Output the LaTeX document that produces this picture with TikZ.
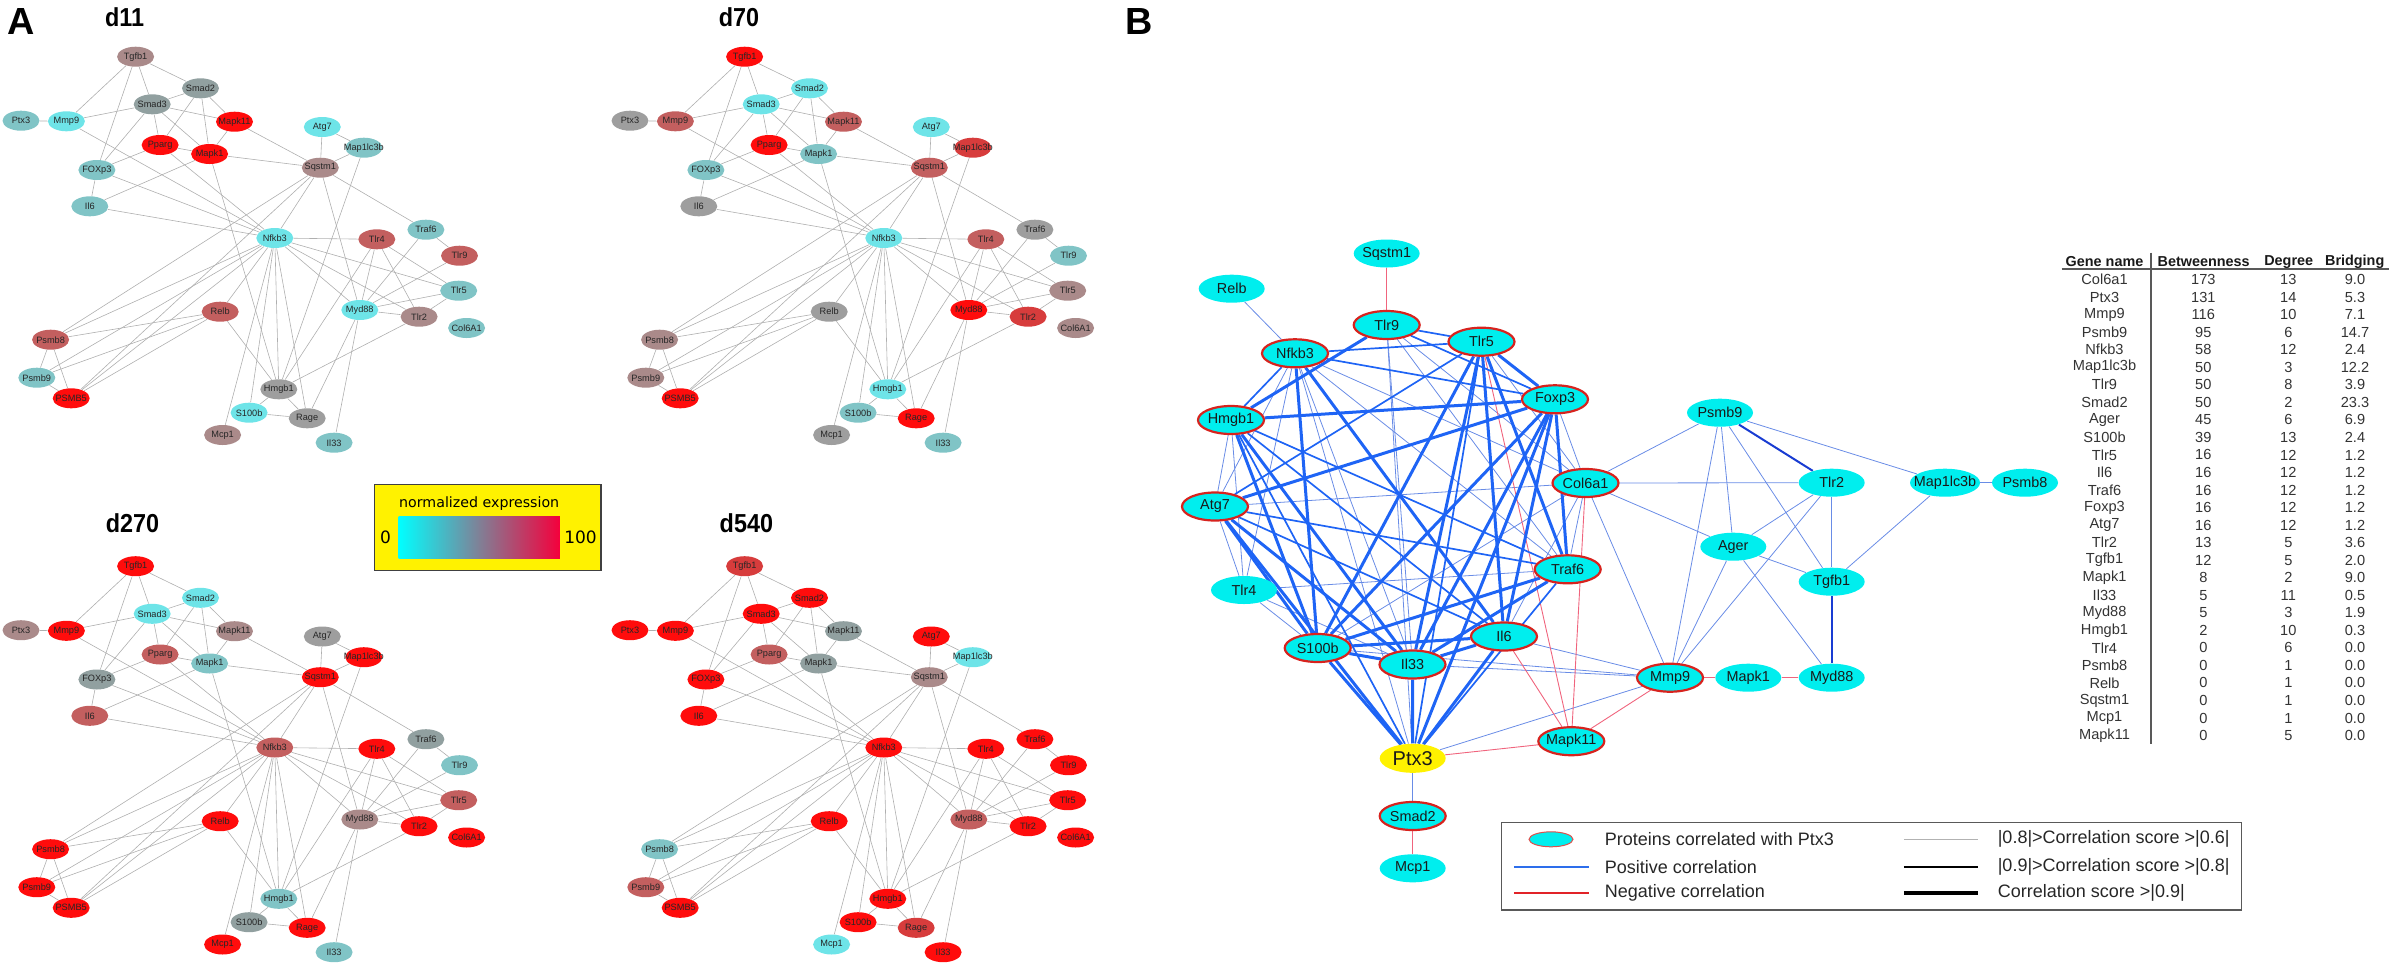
\documentclass[tikz,border=0pt]{standalone}
\usepackage{fontspec}
\setmainfont{Liberation Sans}
\newfontfamily\dejavu{DejaVu Sans}
\newfontfamily\narrowbold[FakeStretch=0.9]{Liberation Sans}
\usetikzlibrary{shapes.geometric}
\pgfdeclarelayer{bg}
\pgfsetlayers{bg,main}

\definecolor{cC}{RGB}{110,228,232}
\definecolor{cT}{RGB}{128,196,198}
\definecolor{cG}{RGB}{145,160,160}
\definecolor{cY}{RGB}{158,158,158}
\definecolor{cM}{RGB}{170,138,138}
\definecolor{cD}{RGB}{195,95,95}
\definecolor{cE}{RGB}{215,60,60}
\definecolor{cR}{RGB}{255,12,12}
\definecolor{bcyan}{RGB}{0,238,238}
\definecolor{bborder}{RGB}{215,35,30}
\definecolor{bthick}{RGB}{30,100,245}
\definecolor{bthin}{RGB}{105,140,230}
\definecolor{bdark}{RGB}{25,60,210}
\definecolor{bneg}{RGB}{240,100,125}
\definecolor{agrey}{RGB}{175,175,175}
\definecolor{gcyan}{RGB}{0,255,255}
\definecolor{gmid}{RGB}{128,128,150}
\definecolor{gred}{RGB}{245,0,60}

\begin{document}
\begin{tikzpicture}[x=0.5pt,y=-0.5pt,
  anode/.style={ellipse,minimum width=18.5pt,minimum height=10pt,inner sep=0pt,
    font=\fontsize{4.6}{5}\selectfont,text=black!85},
  aline/.style={draw=agrey,line width=0.3pt},
  bnode/.style={ellipse,fill=bcyan,minimum width=33pt,minimum height=14pt,inner sep=0pt,
    font=\fontsize{7.2}{8}\selectfont,text=black!90},
  bring/.style={bnode,draw=bborder,line width=1.1pt},
  bthickline/.style={draw=bthick,line width=1.5pt},
  bmedline/.style={draw=bthick,line width=0.85pt},
  bthinline/.style={draw=bthin,line width=0.4pt},
  bnegline/.style={draw=bneg,line width=0.45pt},
  bdarkline/.style={draw=bdark,line width=1pt},
  tabtext/.style={font=\fontsize{7.3}{8}\selectfont,inner sep=0pt,text=black!80},
  tabhead/.style={font=\bfseries\fontsize{7.2}{8}\selectfont,inner sep=0pt,text=black!90},
  legtext/.style={font=\fontsize{9}{10}\selectfont,inner sep=0pt,anchor=west,text=black!85},
  panellabel/.style={font=\bfseries\fontsize{18.9}{20}\selectfont,inner sep=0pt},
  daylabel/.style={font=\narrowbold\bfseries\fontsize{13}{14}\selectfont,inner sep=0pt}
]
\useasboundingbox (0,0) rectangle (2395,966);

% ---------------- Panel A ----------------
\node[panellabel] (labA) at (21,21) {A};
\node[daylabel] (lab11) at (124.6,16.7) {d11};
\node[daylabel] (lab70) at (739,16.7) {d70};
\node[daylabel] (lab270) at (132.5,523.3) {d270};
\node[daylabel] (lab540) at (746.4,523.3) {d540};

\foreach \p/\dx/\dy/\k in {d11/0/0/1,d70/609/0/2,d270/0/509.5/3,d540/609/509.5/4}{
  \foreach \nm/\x/\y/\ca/\cb/\cc/\cd in {
    Tgfb1/135.6/56.7/M/R/R/E,
    Smad2/200.5/88.3/G/C/C/R,
    Smad3/152.2/104.3/G/C/C/R,
    Ptx3/21/120.7/T/Y/M/R,
    Mmp9/66.4/121.3/C/D/R/R,
    Mapk11/234.5/121.7/R/D/M/G,
    Atg7/322.3/127/C/C/Y/R,
    Pparg/160.1/145/R/R/D/D,
    Map1lc3b/363.8/147.7/T/E/R/C,
    Mapk1/209.6/154/R/T/T/G,
    Sqstm1/320.3/167.7/M/D/R/M,
    FOXp3/96.9/170/T/T/G/R,
    Il6/89.8/206.3/T/Y/D/R,
    Traf6/425.9/229.7/T/Y/G/R,
    Nfkb3/274.8/238/C/C/D/R,
    Tlr4/376.8/239.3/D/D/R/R,
    Tlr9/459.5/255.7/D/T/T/R,
    Tlr5/458.7/290.7/T/M/D/R,
    Myd88/359.8/310/C/R/M/D,
    Relb/220.2/311.7/D/Y/R/R,
    Tlr2/419.1/316.7/M/E/R/R,
    Col6A1/466.6/328/T/M/R/R,
    Psmb8/50.6/339.7/D/M/R/T,
    Psmb9/36.8/377.7/T/M/R/D,
    Hmgb1/278.8/389.3/Y/C/T/R,
    PSMB5/71.2/398.3/R/R/R/R,
    S100b/249.1/412.7/C/T/G/R,
    Rage/307.2/418.3/Y/R/R/E,
    Mcp1/222.6/435/M/Y/R/C,
    Il33/334.1/442.7/T/T/T/R}{
    \edef\col{\ifcase\k\or\ca\or\cb\or\cc\or\cd\fi}
    \node[anode,fill=c\col] (\p-\nm) at ({\x+\dx},{\y+\dy}) {\makebox[0pt]{\nm}};
  }
  \begin{pgfonlayer}{bg}
  \foreach \u/\v in {Tgfb1/Smad2,Tgfb1/Smad3,Tgfb1/Mmp9,Tgfb1/FOXp3,Smad2/Smad3,
    Smad2/Mapk11,Smad2/Pparg,Smad2/Mapk1,Smad3/Mmp9,Smad3/Mapk11,Smad3/Pparg,
    Smad3/Mapk1,Smad3/FOXp3,Ptx3/Mmp9,Mmp9/Nfkb3,Mapk11/Mapk1,Mapk11/Sqstm1,
    Pparg/Mapk1,Pparg/FOXp3,Pparg/Nfkb3,Mapk1/Sqstm1,Mapk1/Il6,Mapk1/Hmgb1,
    Atg7/Sqstm1,Atg7/Map1lc3b,Map1lc3b/Sqstm1,Map1lc3b/Hmgb1,Sqstm1/Nfkb3,
    Sqstm1/Traf6,Sqstm1/Myd88,Sqstm1/Psmb8,Sqstm1/PSMB5,FOXp3/Il6,FOXp3/Nfkb3,
    Il6/Nfkb3,Nfkb3/Tlr4,Nfkb3/Tlr5,Nfkb3/Tlr2,Nfkb3/Myd88,Nfkb3/Relb,
    Nfkb3/Hmgb1,Nfkb3/S100b,Nfkb3/Rage,Nfkb3/Mcp1,Nfkb3/Psmb8,Nfkb3/Psmb9,
    Nfkb3/PSMB5,Traf6/Tlr9,Traf6/Myd88,Tlr4/Myd88,Tlr4/Tlr2,Tlr4/Tlr5,
    Tlr4/Hmgb1,Tlr9/Myd88,Tlr5/Myd88,Tlr5/Tlr2,Myd88/Tlr2,Myd88/Rage,
    Myd88/Il33,Tlr2/Hmgb1,Relb/Psmb8,Relb/Psmb9,Relb/PSMB5,Relb/Hmgb1,
    Psmb8/Psmb9,Psmb8/PSMB5,Psmb9/PSMB5,Hmgb1/S100b,Hmgb1/Rage,S100b/Rage}{
    \draw[aline] (\p-\u) -- (\p-\v);
  }
  \end{pgfonlayer}
}

% colour legend
\node[draw=black!75,line width=0.6pt,fill=yellow,minimum width=113.1pt,
  minimum height=43.2pt,inner sep=0pt] (cbox) at (487.9,527.5) {};
\coordinate (gradA) at (398.6,516);
\coordinate (gradB) at (559.9,558.3);
\shade[left color=gcyan,right color=gred,middle color=gmid] (gradA) rectangle (gradB);
\node[font=\dejavu\fontsize{7.1}{8}\selectfont,inner sep=0pt] (cnorm) at (479.2,504) {normalized expression};
\node[font=\dejavu\fontsize{8.5}{9}\selectfont,inner sep=0pt] (czero) at (385.5,537.3) {0};
\node[font=\dejavu\fontsize{8.5}{9}\selectfont,inner sep=0pt] (chund) at (580.5,537.3) {100};

% ---------------- Panel B ----------------
\node[panellabel] (labB) at (1139.6,21) {B};

\node[bnode] (B-Sqstm1) at (1386.7,253.5) {\makebox[0pt]{Sqstm1}};
\node[bnode] (B-Relb) at (1231.7,288.7) {\makebox[0pt]{Relb}};
\node[bring] (B-Tlr9) at (1386.7,325) {\makebox[0pt]{Tlr9}};
\node[bring] (B-Tlr5) at (1481.5,341.7) {\makebox[0pt]{Tlr5}};
\node[bring] (B-Nfkb3) at (1295,353.3) {\makebox[0pt]{Nfkb3}};
\node[bring] (B-Foxp3) at (1555,399.3) {\makebox[0pt]{Foxp3}};
\node[bnode] (B-Psmb9) at (1720,412.7) {\makebox[0pt]{Psmb9}};
\node[bring] (B-Hmgb1) at (1231,420) {\makebox[0pt]{Hmgb1}};
\node[bring] (B-Col6a1) at (1585.5,483) {\makebox[0pt]{Col6a1}};
\node[bnode] (B-Tlr2) at (1831.7,482.7) {\makebox[0pt]{Tlr2}};
\node[bnode,minimum width=35pt] (B-Map1lc3b) at (1945,482.7) {\makebox[0pt]{Map1lc3b}};
\node[bnode] (B-Psmb8) at (2025,482.7) {\makebox[0pt]{Psmb8}};
\node[bring] (B-Atg7) at (1215,506.5) {\makebox[0pt]{Atg7}};
\node[bnode] (B-Ager) at (1733.3,546.7) {\makebox[0pt]{Ager}};
\node[bring] (B-Traf6) at (1567.7,569.3) {\makebox[0pt]{Traf6}};
\node[bnode] (B-Tgfb1) at (1831.7,581.7) {\makebox[0pt]{Tgfb1}};
\node[bnode] (B-Tlr4) at (1244,590) {\makebox[0pt]{Tlr4}};
\node[bring] (B-Il6) at (1504,636.5) {\makebox[0pt]{Il6}};
\node[bring] (B-S100b) at (1317.7,648) {\makebox[0pt]{S100b}};
\node[bring] (B-Il33) at (1412.5,664.5) {\makebox[0pt]{Il33}};
\node[bring] (B-Mmp9) at (1670,677.7) {\makebox[0pt]{Mmp9}};
\node[bnode] (B-Mapk1) at (1748.3,677.7) {\makebox[0pt]{Mapk1}};
\node[bnode] (B-Myd88) at (1831.7,677.7) {\makebox[0pt]{Myd88}};
\node[bring] (B-Mapk11) at (1571.3,741.2) {\makebox[0pt]{Mapk11}};
\node[bnode,fill=yellow,minimum height=14.5pt,font=\fontsize{10}{11}\selectfont] (B-Ptx3) at (1412.7,758.3) {\makebox[0pt]{Ptx3}};
\node[bring] (B-Smad2) at (1412.7,816) {\makebox[0pt]{Smad2}};
\node[bnode] (B-Mcp1) at (1412.7,868.3) {\makebox[0pt]{Mcp1}};

\begin{pgfonlayer}{bg}
\foreach \u/\v in {Relb/Nfkb3,Tlr9/Ptx3,Tlr9/Col6a1,Tlr9/Traf6,Tlr9/Il33,
  Nfkb3/Atg7,Nfkb3/Tlr4,Nfkb3/Col6a1,Nfkb3/Traf6,Nfkb3/Ptx3,Nfkb3/Il33,
  Hmgb1/Atg7,Hmgb1/Tlr4,Atg7/Col6a1,Atg7/Tlr4,Tlr4/S100b,Tlr4/Il33,Tlr4/Traf6,
  Tlr5/Col6a1,Foxp3/Col6a1,Col6a1/Traf6,Col6a1/Il6,Col6a1/S100b,
  Col6a1/Psmb9,Col6a1/Tlr2,Col6a1/Ager,Col6a1/Mmp9,Il6/Mmp9,Il33/Mmp9,
  S100b/Mmp9,Ptx3/Mmp9,Ptx3/Smad2,Psmb9/Map1lc3b,Psmb9/Ager,Psmb9/Tgfb1,
  Psmb9/Mmp9,Tlr2/Ager,Tlr2/Tgfb1,Tlr2/Mmp9,Ager/Tgfb1,Ager/Myd88,Ager/Mmp9,
  Tgfb1/Map1lc3b,Map1lc3b/Psmb8}{
  \draw[bthinline] (B-\u) -- (B-\v);
}
\foreach \u/\v in {Sqstm1/Tlr9,Tlr5/Mapk11,Col6a1/Mapk11,Il6/Mapk11,Ptx3/Mapk11,
  Mmp9/Mapk11,Mmp9/Mapk1,Mapk1/Myd88,Smad2/Mcp1}{
  \draw[bnegline] (B-\u) -- (B-\v);
}
\foreach \u/\v in {Tlr9/Tlr5,Tlr9/Foxp3,Nfkb3/Tlr5,Nfkb3/Foxp3,Nfkb3/Hmgb1,
  Atg7/Tlr5,Atg7/Traf6,Atg7/Il6,Hmgb1/Traf6,Hmgb1/Il6,Traf6/Ptx3,Tlr5/Ptx3,
  Hmgb1/Ptx3}{
  \draw[bmedline] (B-\u) -- (B-\v);
}
\foreach \u/\v in {Tlr9/Hmgb1,Tlr5/Foxp3,Tlr5/Traf6,Tlr5/Il6,Tlr5/Il33,Tlr5/S100b,
  Nfkb3/Il6,Nfkb3/S100b,Hmgb1/Foxp3,Hmgb1/S100b,Hmgb1/Il33,Atg7/Foxp3,
  Atg7/S100b,Atg7/Il33,Atg7/Ptx3,Foxp3/S100b,Foxp3/Il33,Foxp3/Il6,Foxp3/Traf6,
  Foxp3/Ptx3,Traf6/S100b,Traf6/Il33,Il6/S100b,Il6/Il33,Il6/Ptx3,S100b/Il33,
  S100b/Ptx3,Il33/Ptx3}{
  \draw[bthickline] (B-\u) -- (B-\v);
}
\draw[bdarkline] (B-Psmb9) -- (B-Tlr2);
\draw[bdarkline] (B-Tgfb1) -- (B-Myd88);
\end{pgfonlayer}

% legend of panel B
\node[draw=black!65,line width=0.6pt,minimum width=369.85pt,minimum height=43.75pt,
  inner sep=0pt] (legB) at (1871.35,866.25) {};
\node[ellipse,fill=bcyan,draw=bborder!80,line width=0.5pt,minimum width=22pt,
  minimum height=7.5pt,inner sep=0pt] (legEll) at (1551,839.3) {};
\coordinate (lbA) at (1513.8,867.3);
\coordinate (lbB) at (1588.5,867.3);
\coordinate (lrA) at (1513.8,893.3);
\coordinate (lrB) at (1588.5,893.3);
\coordinate (lgA) at (1903.9,839.3);
\coordinate (lgB) at (1977.5,839.3);
\coordinate (lmA) at (1903.9,867.3);
\coordinate (lmB) at (1977.5,867.3);
\coordinate (ltA) at (1903.9,893.3);
\coordinate (ltB) at (1977.5,893.3);
\draw[draw={rgb,255:red,45;green,110;blue,235},line width=1pt] (lbA) -- (lbB);
\draw[draw={rgb,255:red,225;green,35;blue,40},line width=1.1pt] (lrA) -- (lrB);
\draw[draw=black!30,line width=0.6pt] (lgA) -- (lgB);
\draw[draw=black,line width=1.05pt] (lmA) -- (lmB);
\draw[draw=black,line width=1.9pt] (ltA) -- (ltB);
\node[legtext] (lt1) at (1604.4,839.3) {Proteins correlated with Ptx3};
\node[legtext] (lt2) at (1604.4,867.3) {Positive correlation};
\node[legtext] (lt3) at (1604.4,893.3) {Negative correlation};
\node[legtext] (lt4) at (1997.4,839.3) {|0.8|>Correlation score >|0.6|};
\node[legtext] (lt5) at (1997.4,867.3) {|0.9|>Correlation score >|0.8|};
\node[legtext] (lt6) at (1997.4,893.3) {Correlation score >|0.9|};

% table
\node[tabhead] (th1) at (2104.5,261.6) {Gene name};
\node[tabhead] (th2) at (2203.7,261.6) {Betweenness};
\node[tabhead] (th3) at (2288.7,261.6) {Degree};
\node[tabhead] (th4) at (2354.7,261.6) {Bridging};
\coordinate (vt) at (2151,252.5);
\coordinate (vb) at (2151,743.5);
\coordinate (hl) at (2061.7,269.3);
\coordinate (hr) at (2389.3,269.3);
\draw[black!65,line width=0.85pt] (vt) -- (vb);
\draw[black!65,line width=0.85pt] (hl) -- (hr);
\foreach \g/\b/\d/\r [count=\i from 0] in {Col6a1/173/13/9.0,Ptx3/131/14/5.3,
  Mmp9/116/10/7.1,Psmb9/95/6/14.7,Nfkb3/58/12/2.4,Map1lc3b/50/3/12.2,
  Tlr9/50/8/3.9,Smad2/50/2/23.3,Ager/45/6/6.9,S100b/39/13/2.4,Tlr5/16/12/1.2,
  Il6/16/12/1.2,Traf6/16/12/1.2,Foxp3/16/12/1.2,Atg7/16/12/1.2,Tlr2/13/5/3.6,
  Tgfb1/12/5/2.0,Mapk1/8/2/9.0,Il33/5/11/0.5,Myd88/5/3/1.9,Hmgb1/2/10/0.3,
  Tlr4/0/6/0.0,Psmb8/0/1/0.0,Relb/0/1/0.0,Sqstm1/0/1/0.0,Mcp1/0/1/0.0,
  Mapk11/0/5/0.0}{
  \node[tabtext] (ta\i) at (2104.5,{279.5+17.54*\i}) {\g};
  \node[tabtext] (tb\i) at (2203.3,{279.5+17.54*\i}) {\b};
  \node[tabtext] (tc\i) at (2288.3,{279.5+17.54*\i}) {\d};
  \node[tabtext] (td\i) at (2355,{279.5+17.54*\i}) {\r};
}
\end{tikzpicture}
\end{document}
